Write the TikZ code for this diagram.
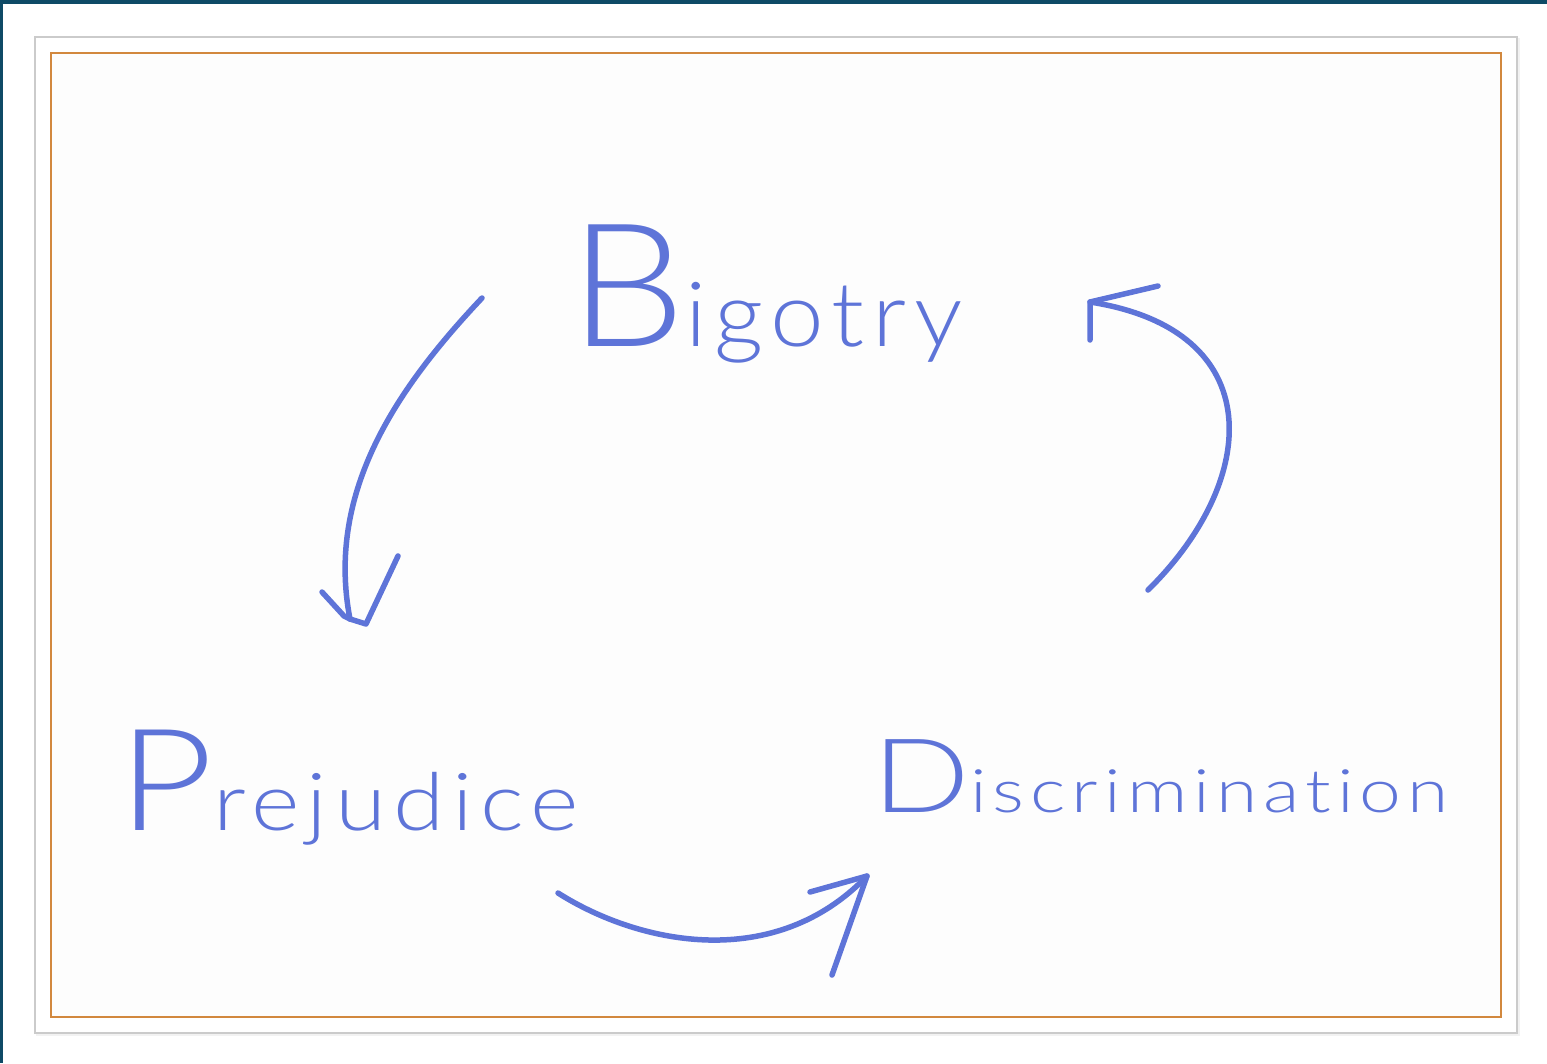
\documentclass[tikz,border=0pt]{standalone}
\usepackage{fontspec}
\newfontfamily\hand{Lato Light}[LetterSpace=8, Ligatures=NoCommon]
\definecolor{ink}{HTML}{5E74D8}
\definecolor{teal}{HTML}{0E4A66}
\definecolor{frameorange}{HTML}{D2883E}
\definecolor{framegray}{HTML}{CBCBCB}
\definecolor{paper}{HTML}{FDFDFD}
\tikzset{
  stroke/.style={draw=ink, line width=5.5pt, line cap=round, line join=round},
  word/.style={text=ink, inner sep=0pt, font=\hand},
}
\begin{document}
\begin{tikzpicture}[x=1pt,y=-1pt]
\useasboundingbox (0,0) rectangle (1547,1063);
\fill[white] (0,0) rectangle (1547,1063);
% window bars
\fill[teal] (0,0) rectangle (1547,4);
\fill[teal] (0,0) rectangle (2.5,1063);
% frames
\fill[gray!10] (36,38) rectangle (1520,1036);
\filldraw[fill=white, draw=framegray, line width=2pt] (35,37) rectangle (1517,1033);
\filldraw[fill=paper, draw=frameorange, line width=2pt] (51,53) rectangle (1501,1017);
% words
\node[word, anchor=base west] (big) at (569,346)
  {\scalebox{1.07}[1]{{\fontsize{172}{172}\selectfont B}{\fontsize{90}{90}\selectfont igotry}}};
\node[word, anchor=base west] (pre) at (118,830)
  {\scalebox{1.16}[1]{{\fontsize{142}{142}\selectfont P}{\fontsize{80}{80}\selectfont rejudice}}};
\node[word, anchor=base west] (dis) at (872,812)
  {\scalebox{1.25}[1]{{\fontsize{103}{103}\selectfont D}{\fontsize{60}{60}\selectfont iscrimination}}};
% connector end points
\coordinate (a1s) at (482,298);
\coordinate (a1e) at (350,619);
\coordinate (a2s) at (558,893);
\coordinate (a2e) at (867,876);
\coordinate (a3s) at (1148,590);
\coordinate (a3e) at (1090,302);
% Bigotry -> Prejudice
\draw[stroke] (a1s) .. controls (400,385) and (325,490) .. (a1e);
\draw[stroke] (322,592) -- (344,616) -- (a1e);
\draw[stroke] (a1e) -- (366,624) -- (398,556);
% Prejudice -> Discrimination
\draw[stroke] (a2s) .. controls (640,945) and (775,972) .. (a2e);
\draw[stroke] (810,892) -- (a2e) -- (832,975);
% Discrimination -> Bigotry
\draw[stroke] (a3s) .. controls (1260,480) and (1270,330) .. (a3e);
\draw[stroke] (1158,286) -- (a3e) -- (1090,340);
\end{tikzpicture}
\end{document}
